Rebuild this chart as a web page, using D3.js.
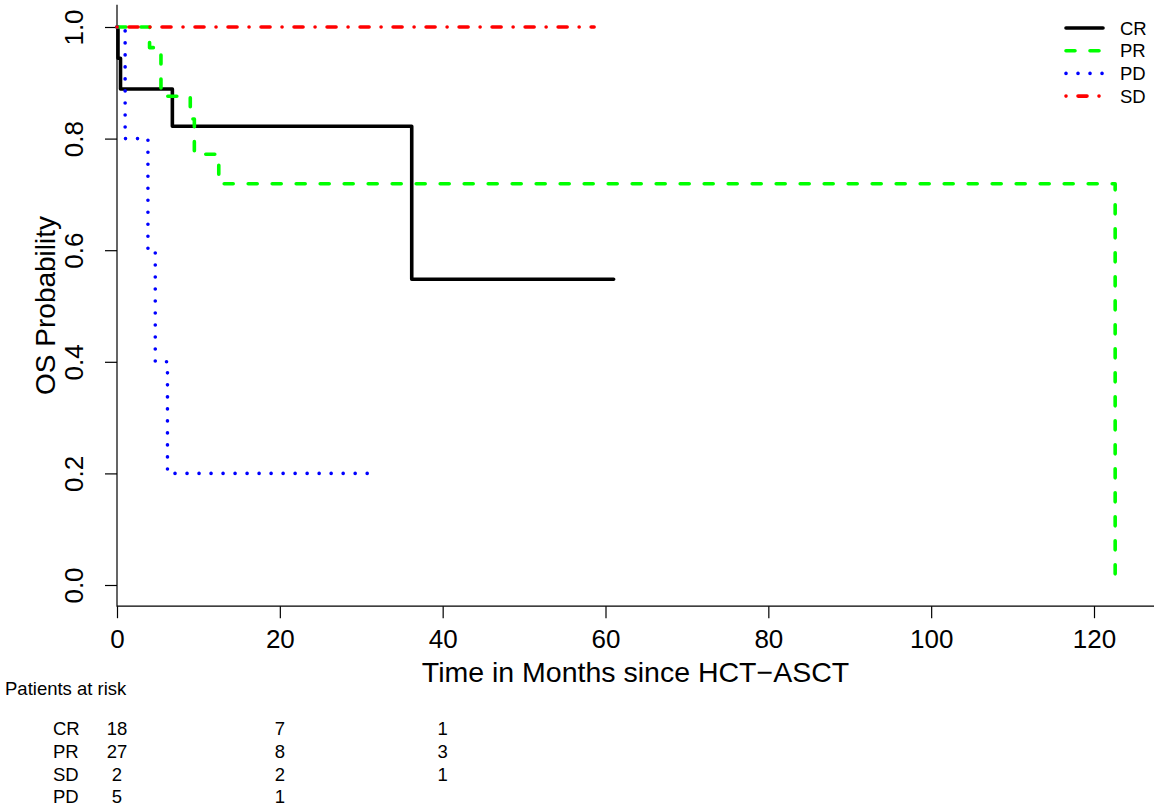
<!DOCTYPE html>
<html>
<head>
<meta charset="utf-8">
<script src="https://cdn.jsdelivr.net/npm/d3@7"></script>
<style>
  body { margin: 0; background: #fff; }
  svg { display: block; font-family: "Liberation Sans", Arial, sans-serif; }
</style>
</head>
<body>
<div id="chart"></div>
<script>
// Kaplan-Meier step curves (months, survival)
const crTimes = [0, 0.12, 0.43, 6.8, 36.2, 61.0];
const crSurv  = [1, 0.944, 0.889, 0.822, 0.548, 0.548];
const prTimes = [0, 4.0, 5.4, 9.0, 9.5, 12.5, 122.6];
const prSurv  = [1, 0.963, 0.876, 0.835, 0.772, 0.719, 0];
const pdTimes = [0, 1.0, 3.8, 4.7, 6.2, 31.5];
const pdSurv  = [1, 0.8, 0.6, 0.4, 0.2, 0.2];
const sdTimes = [0, 58.6];
const sdSurv  = [1, 1];

const groups = ["CR", "PR", "PD", "SD"];
const xTicks = [0, 20, 40, 60, 80, 100, 120];
const yTicks = [0, 0.2, 0.4, 0.6, 0.8, 1.0];

// patients at risk table
const riskGroups = ["CR", "PR", "SD", "PD"];
const riskTimes = [0, 20, 40];
const riskCR = [18, 7, 1];
const riskPR = [27, 8, 3];
const riskSD = [2, 2, 1];
const riskPD = [5, 1, null];

const W = 1154, H = 810;
const x = d3.scaleLinear().domain([0, 120]).range([117, 1094]);
const y = d3.scaleLinear().domain([0, 1]).range([585, 27]);
const yBottom = y(-0.038), yTop = y(1.04);

const style = {
    CR: { color: "#000000", dash: null },
    PR: { color: "#00ff00", dash: "9,15" },
    PD: { color: "#0000ff", dash: "0.01,12" },
    SD: { color: "#ff0000", dash: "0.01,12,9,12" }
};

const curves = {
    CR: d3.zip(crTimes, crSurv),
    PR: d3.zip(prTimes, prSurv),
    PD: d3.zip(pdTimes, pdSurv),
    SD: d3.zip(sdTimes, sdSurv)
};

const svg = d3.select("#chart").append("svg").attr("width", W).attr("height", H);

// L-shaped box
svg.append("path")
    .attr("d", `M${x(0)},${yTop}V${yBottom}H${W}`)
    .attr("fill", "none").attr("stroke", "#000").attr("stroke-width", 1.2);

// x axis
const xAxis = svg.append("g").attr("transform", `translate(0,${yBottom})`)
    .call(d3.axisBottom(x).tickValues(xTicks).tickSize(12).tickPadding(4).tickFormat(d3.format("d")));
xAxis.select(".domain").remove();
xAxis.selectAll("line").attr("stroke", "#000").attr("stroke-width", 1.2);
xAxis.selectAll("text").attr("fill", "#000").attr("font-size", 26)
    .attr("dy", null).attr("y", 42);

// y axis
const yAxis = svg.append("g").attr("transform", `translate(${x(0)},0)`)
    .call(d3.axisLeft(y).tickValues(yTicks).tickSize(12).tickFormat(d3.format(".1f")));
yAxis.select(".domain").remove();
yAxis.selectAll("line").attr("stroke", "#000").attr("stroke-width", 1.2);
yAxis.selectAll("text").attr("fill", "#000").attr("font-size", 26)
    .attr("x", null).attr("dy", null)
    .attr("text-anchor", "middle")
    .attr("transform", "translate(-34,0) rotate(-90)");

// axis titles
svg.append("text").attr("x", (x(0) + W) / 2).attr("y", 682)
    .attr("text-anchor", "middle").attr("font-size", 28.5)
    .text("Time in Months since HCT\u2212ASCT");
svg.append("text").attr("transform", `translate(55,${(yTop + yBottom) / 2}) rotate(-90)`)
    .attr("text-anchor", "middle").attr("font-size", 28)
    .text("OS Probability");

// curves
const line = d3.line().x(d => x(d[0])).y(d => y(d[1])).curve(d3.curveStepAfter);
svg.append("g").selectAll("path").data(groups).join("path")
    .attr("d", g => line(curves[g]))
    .attr("fill", "none")
    .attr("stroke", g => style[g].color)
    .attr("stroke-width", 3.6)
    .attr("stroke-linecap", "round")
    .attr("stroke-linejoin", "round")
    .attr("stroke-dasharray", g => style[g].dash);

// legend
const legend = svg.append("g").selectAll("g").data(groups).join("g")
    .attr("transform", (g, i) => `translate(1066,${28 + i * 22.7})`);
legend.append("line").attr("x1", 0).attr("x2", 37)
    .attr("stroke", g => style[g].color).attr("stroke-width", 3.6)
    .attr("stroke-linecap", "round")
    .attr("stroke-dasharray", g => style[g].dash);
legend.append("text").attr("x", 54).attr("dy", "0.36em").attr("font-size", 18.5)
    .text(g => g);

// patients at risk
svg.append("text").attr("x", 5).attr("y", 695).attr("font-size", 18.5).text("Patients at risk");
const riskRows = { CR: riskCR, PR: riskPR, SD: riskSD, PD: riskPD };
const rows = svg.append("g").selectAll("g").data(riskGroups).join("g")
    .attr("transform", (g, i) => `translate(0,${735 + i * 22.8})`)
    .attr("font-size", 18.5);
rows.append("text").attr("x", 53).text(g => g);
rows.selectAll("text.n").data(g => riskRows[g].map((v, i) => [riskTimes[i], v]).filter(d => d[1] !== null))
    .join("text").attr("class", "n")
    .attr("x", d => x(d[0])).attr("text-anchor", "middle")
    .text(d => d[1]);
</script>
</body>
</html>
